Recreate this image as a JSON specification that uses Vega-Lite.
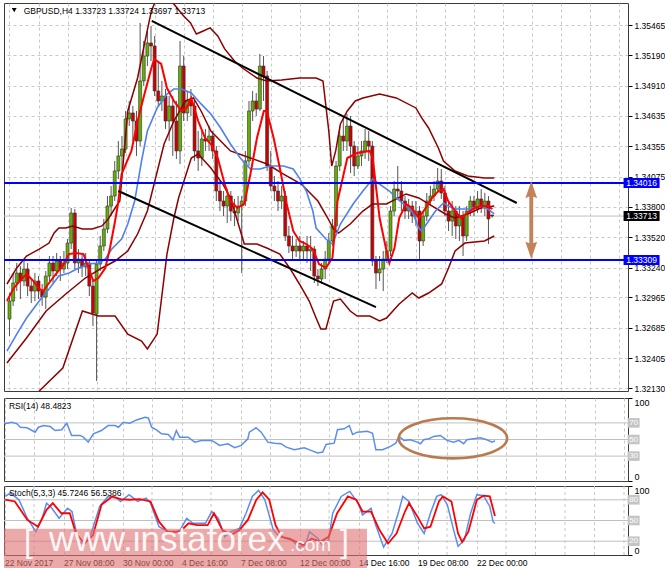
{
"$schema":"https://vega.github.io/schema/vega-lite/v6.json",
"padding":{"left":2,"top":2,"right":0,"bottom":0},
"background":"#ffffff",
"spacing":3,
"resolve":{"scale":{"x":"independent","y":"independent"}},
"config":{
 "view":{"stroke":"#3c3c3c","strokeWidth":1},
 "axis":{"labelFont":"Liberation Sans","labelFontSize":8.5,"labelColor":"#000000","gridColor":"#c8c8c8","gridDash":[3,3],"gridWidth":1,"domain":false,"tickColor":"#000000","tickSize":4,"labelPadding":2,"title":null,"labelOverlap":false},
 "text":{"font":"Liberation Sans"}
},
"datasets":{
"c":[
{"i":0,"o":1.32767,"h":1.33006,"l":1.32611,"c":1.32932},
{"i":1,"o":1.32932,"h":1.3319,"l":1.32887,"c":1.33098},
{"i":2,"o":1.33098,"h":1.33282,"l":1.33024,"c":1.3319},
{"i":3,"o":1.3319,"h":1.33254,"l":1.32951,"c":1.33116},
{"i":4,"o":1.33116,"h":1.33318,"l":1.3307,"c":1.33226},
{"i":5,"o":1.33226,"h":1.33282,"l":1.32978,"c":1.3307},
{"i":6,"o":1.3307,"h":1.33135,"l":1.32914,"c":1.33024},
{"i":7,"o":1.33024,"h":1.3319,"l":1.32932,"c":1.33116},
{"i":8,"o":1.33116,"h":1.33162,"l":1.32951,"c":1.33024},
{"i":9,"o":1.33024,"h":1.33089,"l":1.32887,"c":1.32969},
{"i":10,"o":1.32969,"h":1.33208,"l":1.32859,"c":1.33162},
{"i":11,"o":1.33162,"h":1.33346,"l":1.33116,"c":1.33282},
{"i":12,"o":1.33282,"h":1.33346,"l":1.33098,"c":1.33208},
{"i":13,"o":1.33208,"h":1.33373,"l":1.33162,"c":1.333},
{"i":14,"o":1.333,"h":1.33346,"l":1.33116,"c":1.33226},
{"i":15,"o":1.33226,"h":1.33392,"l":1.3319,"c":1.33282},
{"i":16,"o":1.33282,"h":1.33502,"l":1.33226,"c":1.33465},
{"i":17,"o":1.33465,"h":1.33787,"l":1.3341,"c":1.33741},
{"i":18,"o":1.33741,"h":1.33778,"l":1.33226,"c":1.33282},
{"i":19,"o":1.33282,"h":1.3341,"l":1.3319,"c":1.33318},
{"i":20,"o":1.33318,"h":1.33373,"l":1.33153,"c":1.33245},
{"i":21,"o":1.33245,"h":1.33373,"l":1.33162,"c":1.33282},
{"i":22,"o":1.33282,"h":1.33318,"l":1.32978,"c":1.3307},
{"i":23,"o":1.3307,"h":1.33116,"l":1.32703,"c":1.32822},
{"i":24,"o":1.32813,"h":1.33318,"l":1.32198,"c":1.33272},
{"i":25,"o":1.33272,"h":1.3353,"l":1.33208,"c":1.33438},
{"i":26,"o":1.33438,"h":1.33686,"l":1.33392,"c":1.33594},
{"i":27,"o":1.33594,"h":1.33897,"l":1.33557,"c":1.33805},
{"i":28,"o":1.33805,"h":1.33989,"l":1.33713,"c":1.33897},
{"i":29,"o":1.33897,"h":1.34219,"l":1.33851,"c":1.34127},
{"i":30,"o":1.34127,"h":1.34402,"l":1.34053,"c":1.34265},
{"i":31,"o":1.34265,"h":1.34448,"l":1.34127,"c":1.34329},
{"i":32,"o":1.34329,"h":1.34678,"l":1.34292,"c":1.34605},
{"i":33,"o":1.34605,"h":1.3477,"l":1.3454,"c":1.3466},
{"i":34,"o":1.3466,"h":1.34724,"l":1.34402,"c":1.34586},
{"i":35,"o":1.34586,"h":1.34678,"l":1.34265,"c":1.34402},
{"i":36,"o":1.34402,"h":1.35487,"l":1.34356,"c":1.34954},
{"i":37,"o":1.34954,"h":1.35321,"l":1.34908,"c":1.35183},
{"i":38,"o":1.35183,"h":1.35413,"l":1.35091,"c":1.35303},
{"i":39,"o":1.35303,"h":1.35459,"l":1.35137,"c":1.35275},
{"i":40,"o":1.35275,"h":1.35367,"l":1.34816,"c":1.34862},
{"i":41,"o":1.34862,"h":1.35137,"l":1.34724,"c":1.3477},
{"i":42,"o":1.3477,"h":1.34954,"l":1.34678,"c":1.34816},
{"i":43,"o":1.34816,"h":1.3488,"l":1.34513,"c":1.34586},
{"i":44,"o":1.34586,"h":1.34816,"l":1.34402,"c":1.34724},
{"i":45,"o":1.34724,"h":1.34816,"l":1.34265,"c":1.34586},
{"i":46,"o":1.34586,"h":1.3477,"l":1.34237,"c":1.34311},
{"i":47,"o":1.34311,"h":1.35321,"l":1.34191,"c":1.35091},
{"i":48,"o":1.35091,"h":1.35183,"l":1.34586,"c":1.3466},
{"i":49,"o":1.3466,"h":1.34862,"l":1.34586,"c":1.3477},
{"i":50,"o":1.3477,"h":1.3488,"l":1.34632,"c":1.34724},
{"i":51,"o":1.34724,"h":1.34788,"l":1.34219,"c":1.34311},
{"i":52,"o":1.34311,"h":1.34494,"l":1.34127,"c":1.34246},
{"i":53,"o":1.34246,"h":1.34494,"l":1.34173,"c":1.34421},
{"i":54,"o":1.34421,"h":1.34513,"l":1.34311,"c":1.34402},
{"i":55,"o":1.34402,"h":1.3454,"l":1.34311,"c":1.34448},
{"i":56,"o":1.34448,"h":1.34494,"l":1.34237,"c":1.34311},
{"i":57,"o":1.34311,"h":1.34356,"l":1.33851,"c":1.33943},
{"i":58,"o":1.33943,"h":1.34035,"l":1.33759,"c":1.33851},
{"i":59,"o":1.33851,"h":1.33943,"l":1.33713,"c":1.33805},
{"i":60,"o":1.33805,"h":1.33961,"l":1.33649,"c":1.33897},
{"i":61,"o":1.33897,"h":1.33943,"l":1.33667,"c":1.33759},
{"i":62,"o":1.33759,"h":1.3387,"l":1.33622,"c":1.33741},
{"i":63,"o":1.33741,"h":1.33897,"l":1.33667,"c":1.33805},
{"i":64,"o":1.33805,"h":1.33897,"l":1.3319,"c":1.33851},
{"i":65,"o":1.33851,"h":1.34311,"l":1.33805,"c":1.34219},
{"i":66,"o":1.34219,"h":1.3477,"l":1.34173,"c":1.34678},
{"i":67,"o":1.34678,"h":1.34862,"l":1.34586,"c":1.3477},
{"i":68,"o":1.3477,"h":1.34843,"l":1.34632,"c":1.34696},
{"i":69,"o":1.34696,"h":1.35202,"l":1.34678,"c":1.35091},
{"i":70,"o":1.35091,"h":1.35183,"l":1.3477,"c":1.35},
{"i":71,"o":1.35,"h":1.35045,"l":1.34127,"c":1.34173},
{"i":72,"o":1.34173,"h":1.34311,"l":1.33943,"c":1.33989},
{"i":73,"o":1.33989,"h":1.34081,"l":1.33851,"c":1.33943},
{"i":74,"o":1.33943,"h":1.34035,"l":1.33759,"c":1.33851},
{"i":75,"o":1.33851,"h":1.33989,"l":1.33778,"c":1.33897},
{"i":76,"o":1.33897,"h":1.33943,"l":1.33484,"c":1.3353},
{"i":77,"o":1.3353,"h":1.33622,"l":1.33373,"c":1.33438},
{"i":78,"o":1.33438,"h":1.3353,"l":1.33318,"c":1.33392},
{"i":79,"o":1.33392,"h":1.33502,"l":1.33337,"c":1.33438},
{"i":80,"o":1.33438,"h":1.3353,"l":1.33318,"c":1.33392},
{"i":81,"o":1.33392,"h":1.33484,"l":1.333,"c":1.33438},
{"i":82,"o":1.33438,"h":1.3353,"l":1.33282,"c":1.33392},
{"i":83,"o":1.33392,"h":1.3353,"l":1.33208,"c":1.3341},
{"i":84,"o":1.3341,"h":1.33438,"l":1.33098,"c":1.33162},
{"i":85,"o":1.33162,"h":1.33226,"l":1.3307,"c":1.33135},
{"i":86,"o":1.33135,"h":1.33282,"l":1.33089,"c":1.33226},
{"i":87,"o":1.33226,"h":1.33392,"l":1.33135,"c":1.33318},
{"i":88,"o":1.33318,"h":1.33557,"l":1.33282,"c":1.33484},
{"i":89,"o":1.33484,"h":1.33686,"l":1.33438,"c":1.33622},
{"i":90,"o":1.33622,"h":1.34219,"l":1.33557,"c":1.34173},
{"i":91,"o":1.34173,"h":1.3454,"l":1.34127,"c":1.34448},
{"i":92,"o":1.34448,"h":1.34632,"l":1.34311,"c":1.34402},
{"i":93,"o":1.34402,"h":1.3465,"l":1.34311,"c":1.3454},
{"i":94,"o":1.3454,"h":1.34632,"l":1.34108,"c":1.34356},
{"i":95,"o":1.34356,"h":1.34402,"l":1.34081,"c":1.34173},
{"i":96,"o":1.34173,"h":1.34356,"l":1.34145,"c":1.34265},
{"i":97,"o":1.34265,"h":1.34402,"l":1.34173,"c":1.34311},
{"i":98,"o":1.34311,"h":1.34513,"l":1.34237,"c":1.34402},
{"i":99,"o":1.34402,"h":1.34494,"l":1.34219,"c":1.34356},
{"i":100,"o":1.34356,"h":1.34402,"l":1.33254,"c":1.333},
{"i":101,"o":1.333,"h":1.33346,"l":1.33043,"c":1.3319},
{"i":102,"o":1.3319,"h":1.33346,"l":1.33116,"c":1.33226},
{"i":103,"o":1.33226,"h":1.33392,"l":1.33024,"c":1.33318},
{"i":104,"o":1.33318,"h":1.33484,"l":1.33282,"c":1.33392},
{"i":105,"o":1.33392,"h":1.33805,"l":1.33346,"c":1.33759},
{"i":106,"o":1.33759,"h":1.34035,"l":1.33713,"c":1.33961},
{"i":107,"o":1.33961,"h":1.34173,"l":1.3387,"c":1.33943},
{"i":108,"o":1.33943,"h":1.34035,"l":1.33759,"c":1.33851},
{"i":109,"o":1.33851,"h":1.33897,"l":1.33686,"c":1.33759},
{"i":110,"o":1.33759,"h":1.3387,"l":1.33686,"c":1.33805},
{"i":111,"o":1.33805,"h":1.33851,"l":1.33649,"c":1.33713},
{"i":112,"o":1.33713,"h":1.33851,"l":1.33622,"c":1.33759},
{"i":113,"o":1.33759,"h":1.33805,"l":1.33318,"c":1.33484},
{"i":114,"o":1.33484,"h":1.33759,"l":1.33438,"c":1.33713},
{"i":115,"o":1.33713,"h":1.33925,"l":1.33667,"c":1.33851},
{"i":116,"o":1.33851,"h":1.33989,"l":1.33805,"c":1.33897},
{"i":117,"o":1.33897,"h":1.34035,"l":1.33851,"c":1.33961},
{"i":118,"o":1.33961,"h":1.34154,"l":1.33925,"c":1.34035},
{"i":119,"o":1.34035,"h":1.34145,"l":1.3387,"c":1.33925},
{"i":120,"o":1.33925,"h":1.33989,"l":1.33713,"c":1.33759},
{"i":121,"o":1.33759,"h":1.33851,"l":1.33576,"c":1.33667},
{"i":122,"o":1.33667,"h":1.33851,"l":1.3353,"c":1.33759},
{"i":123,"o":1.33759,"h":1.33805,"l":1.33502,"c":1.33622},
{"i":124,"o":1.33622,"h":1.33805,"l":1.33484,"c":1.33713},
{"i":125,"o":1.33713,"h":1.33759,"l":1.33346,"c":1.3353},
{"i":126,"o":1.3353,"h":1.33805,"l":1.33484,"c":1.33759},
{"i":127,"o":1.33759,"h":1.33897,"l":1.33713,"c":1.33851},
{"i":128,"o":1.33851,"h":1.33897,"l":1.33713,"c":1.33778},
{"i":129,"o":1.33778,"h":1.33943,"l":1.33741,"c":1.3387},
{"i":130,"o":1.3387,"h":1.33961,"l":1.33741,"c":1.33805},
{"i":131,"o":1.33805,"h":1.33925,"l":1.33713,"c":1.33851},
{"i":132,"o":1.33851,"h":1.33897,"l":1.33456,"c":1.33686},
{"i":133,"o":1.33723,"h":1.33724,"l":1.33697,"c":1.33713}
],
"bb":[
{"s":"u","i":-0.7,"v":1.33089},{"s":"u","i":2.0,"v":1.33236},{"s":"u","i":4.7,"v":1.33346},{"s":"u","i":8.2,"v":1.3341},{"s":"u","i":10.9,"v":1.33465},{"s":"u","i":12.3,"v":1.33557},{"s":"u","i":13.6,"v":1.33603},{"s":"u","i":15.5,"v":1.33603},{"s":"u","i":17.4,"v":1.33622},{"s":"u","i":20.1,"v":1.33594},{"s":"u","i":22.8,"v":1.33594},{"s":"u","i":25.5,"v":1.33622},{"s":"u","i":27.2,"v":1.33686},{"s":"u","i":29.1,"v":1.33787},{"s":"u","i":30.4,"v":1.33851},{"s":"u","i":32.6,"v":1.34678},{"s":"u","i":35.3,"v":1.34981},{"s":"u","i":37.2,"v":1.35294},{"s":"u","i":39.1,"v":1.35597},{"s":"u","i":41.2,"v":1.35762},{"s":"u","i":43.1,"v":1.35781},{"s":"u","i":45.3,"v":1.35661},{"s":"u","i":48.0,"v":1.35551},{"s":"u","i":49.9,"v":1.35487},{"s":"u","i":51.5,"v":1.35385},{"s":"u","i":53.4,"v":1.35413},{"s":"u","i":55.3,"v":1.35441},{"s":"u","i":57.4,"v":1.35367},{"s":"u","i":59.3,"v":1.35248},{"s":"u","i":62.0,"v":1.35137},{"s":"u","i":64.2,"v":1.35073},{"s":"u","i":68.2,"v":1.34981},{"s":"u","i":70.9,"v":1.34954},{"s":"u","i":75.0,"v":1.34963},{"s":"u","i":79.9,"v":1.34981},{"s":"u","i":84.5,"v":1.34981},{"s":"u","i":86.4,"v":1.34954},{"s":"u","i":88.0,"v":1.34494},{"s":"u","i":88.8,"v":1.34173},{"s":"u","i":89.9,"v":1.34311},{"s":"u","i":91.2,"v":1.34559},{"s":"u","i":93.1,"v":1.34678},{"s":"u","i":95.3,"v":1.3477},{"s":"u","i":97.4,"v":1.34798},{"s":"u","i":102.0,"v":1.34834},{"s":"u","i":106.6,"v":1.34798},{"s":"u","i":112.0,"v":1.34706},{"s":"u","i":113.6,"v":1.34614},{"s":"u","i":115.5,"v":1.34522},{"s":"u","i":118.2,"v":1.34338},{"s":"u","i":119.6,"v":1.34219},{"s":"u","i":122.8,"v":1.34127},{"s":"u","i":126.3,"v":1.34081},{"s":"u","i":130.9,"v":1.34063},{"s":"u","i":133.6,"v":1.34063},
{"s":"m","i":-0.7,"v":1.32363},{"s":"m","i":4.7,"v":1.32593},{"s":"m","i":10.1,"v":1.32841},{"s":"m","i":15.5,"v":1.32997},{"s":"m","i":20.9,"v":1.33144},{"s":"m","i":25.5,"v":1.33236},{"s":"m","i":29.1,"v":1.333},{"s":"m","i":32.6,"v":1.33392},{"s":"m","i":35.3,"v":1.33548},{"s":"m","i":38.0,"v":1.33759},{"s":"m","i":42.6,"v":1.34375},{"s":"m","i":45.3,"v":1.34586},{"s":"m","i":48.5,"v":1.3477},{"s":"m","i":50.7,"v":1.34798},{"s":"m","i":52.8,"v":1.34678},{"s":"m","i":55.5,"v":1.34494},{"s":"m","i":60.9,"v":1.34311},{"s":"m","i":66.4,"v":1.34246},{"s":"m","i":71.0,"v":1.34191},{"s":"m","i":75.5,"v":1.34099},{"s":"m","i":80.4,"v":1.34007},{"s":"m","i":85.0,"v":1.33851},{"s":"m","i":87.7,"v":1.33695},{"s":"m","i":89.3,"v":1.33594},{"s":"m","i":90.7,"v":1.33557},{"s":"m","i":93.9,"v":1.3364},{"s":"m","i":97.4,"v":1.33759},{"s":"m","i":100.1,"v":1.33824},{"s":"m","i":103.9,"v":1.33824},{"s":"m","i":109.3,"v":1.33916},{"s":"m","i":112.8,"v":1.33879},{"s":"m","i":115.5,"v":1.33824},{"s":"m","i":120.1,"v":1.33732},{"s":"m","i":122.8,"v":1.33695},{"s":"m","i":126.3,"v":1.33732},{"s":"m","i":129.9,"v":1.33787},{"s":"m","i":133.6,"v":1.33805},
{"s":"l","i":2.0,"v":1.31922},{"s":"l","i":8.2,"v":1.32106},{"s":"l","i":14.7,"v":1.32317},{"s":"l","i":20.1,"v":1.32841},{"s":"l","i":24.5,"v":1.32795},{"s":"l","i":29.1,"v":1.32795},{"s":"l","i":32.6,"v":1.32629},{"s":"l","i":36.4,"v":1.32565},{"s":"l","i":38.0,"v":1.32492},{"s":"l","i":40.7,"v":1.32629},{"s":"l","i":43.4,"v":1.33364},{"s":"l","i":45.3,"v":1.33695},{"s":"l","i":46.6,"v":1.33879},{"s":"l","i":50.1,"v":1.34246},{"s":"l","i":52.0,"v":1.34283},{"s":"l","i":55.5,"v":1.34154},{"s":"l","i":58.8,"v":1.34007},{"s":"l","i":60.9,"v":1.33879},{"s":"l","i":62.0,"v":1.33759},{"s":"l","i":64.7,"v":1.33456},{"s":"l","i":68.2,"v":1.33456},{"s":"l","i":70.9,"v":1.33419},{"s":"l","i":74.5,"v":1.33364},{"s":"l","i":77.2,"v":1.33236},{"s":"l","i":79.9,"v":1.33089},{"s":"l","i":82.6,"v":1.32932},{"s":"l","i":84.5,"v":1.32776},{"s":"l","i":85.8,"v":1.32675},{"s":"l","i":87.2,"v":1.32675},{"s":"l","i":89.3,"v":1.32932},{"s":"l","i":91.2,"v":1.32951},{"s":"l","i":93.9,"v":1.32841},{"s":"l","i":95.8,"v":1.32795},{"s":"l","i":99.3,"v":1.32795},{"s":"l","i":102.0,"v":1.32749},{"s":"l","i":103.9,"v":1.32776},{"s":"l","i":107.4,"v":1.32905},{"s":"l","i":111.0,"v":1.33006},{"s":"l","i":112.8,"v":1.3296},{"s":"l","i":115.5,"v":1.33006},{"s":"l","i":119.1,"v":1.33089},{"s":"l","i":121.0,"v":1.33236},{"s":"l","i":122.8,"v":1.33392},{"s":"l","i":125.5,"v":1.33465},{"s":"l","i":130.9,"v":1.33484},{"s":"l","i":133.6,"v":1.3353}
],
"mr":[
{"i":-0.7,"v":1.32932},{"i":1.2,"v":1.33052},{"i":2.8,"v":1.33116},{"i":4.7,"v":1.33181},{"i":6.6,"v":1.33116},{"i":8.2,"v":1.33043},{"i":9.3,"v":1.33024},{"i":10.9,"v":1.33098},{"i":12.8,"v":1.33181},{"i":14.7,"v":1.33254},{"i":16.4,"v":1.33364},{"i":18.2,"v":1.33373},{"i":20.4,"v":1.33364},{"i":21.8,"v":1.33236},{"i":23.1,"v":1.33116},{"i":24.5,"v":1.33144},{"i":26.4,"v":1.33236},{"i":27.7,"v":1.33419},{"i":29.1,"v":1.33667},{"i":29.9,"v":1.33824},{"i":30.9,"v":1.34099},{"i":33.6,"v":1.34311},{"i":35.3,"v":1.34586},{"i":37.2,"v":1.34834},{"i":39.1,"v":1.35073},{"i":39.9,"v":1.35155},{"i":41.8,"v":1.3511},{"i":43.4,"v":1.34889},{"i":45.3,"v":1.3477},{"i":47.4,"v":1.34678},{"i":48.8,"v":1.34706},{"i":50.1,"v":1.34798},{"i":52.0,"v":1.34586},{"i":53.9,"v":1.3443},{"i":55.5,"v":1.34375},{"i":57.4,"v":1.34246},{"i":59.3,"v":1.34007},{"i":60.9,"v":1.33851},{"i":62.8,"v":1.33787},{"i":64.7,"v":1.33824},{"i":66.4,"v":1.34099},{"i":68.2,"v":1.3443},{"i":70.1,"v":1.34678},{"i":70.9,"v":1.34678},{"i":72.8,"v":1.3443},{"i":74.5,"v":1.34154},{"i":76.4,"v":1.33824},{"i":78.2,"v":1.33576},{"i":79.9,"v":1.33484},{"i":81.8,"v":1.33456},{"i":83.6,"v":1.3341},{"i":85.3,"v":1.33272},{"i":87.2,"v":1.33236},{"i":89.0,"v":1.33328},{"i":90.4,"v":1.33851},{"i":93.1,"v":1.34246},{"i":95.8,"v":1.34292},{"i":99.3,"v":1.34311},{"i":100.1,"v":1.34246},{"i":102.0,"v":1.33695},{"i":103.9,"v":1.33392},{"i":104.7,"v":1.33282},{"i":106.1,"v":1.33419},{"i":107.4,"v":1.33695},{"i":109.3,"v":1.33824},{"i":110.9,"v":1.33787},{"i":112.8,"v":1.33695},{"i":114.7,"v":1.33787},{"i":116.4,"v":1.33879},{"i":118.2,"v":1.33943},{"i":119.6,"v":1.33961},{"i":120.9,"v":1.33851},{"i":122.8,"v":1.33759},{"i":124.4,"v":1.33695},{"i":125.8,"v":1.33732},{"i":128.2,"v":1.33787},{"i":129.9,"v":1.33805},{"i":131.8,"v":1.33805},{"i":133.1,"v":1.33778}
],
"mb":[
{"i":-0.7,"v":1.32473},{"i":2.0,"v":1.32629},{"i":4.7,"v":1.32776},{"i":8.2,"v":1.32932},{"i":10.9,"v":1.33043},{"i":13.6,"v":1.33162},{"i":16.4,"v":1.3319},{"i":19.1,"v":1.33236},{"i":21.8,"v":1.33272},{"i":24.5,"v":1.33282},{"i":26.4,"v":1.33318},{"i":28.2,"v":1.3341},{"i":30.9,"v":1.33502},{"i":32.6,"v":1.3364},{"i":34.5,"v":1.33851},{"i":36.4,"v":1.34219},{"i":38.0,"v":1.34494},{"i":40.7,"v":1.34706},{"i":43.4,"v":1.34834},{"i":45.3,"v":1.3488},{"i":47.4,"v":1.3488},{"i":50.1,"v":1.34843},{"i":52.8,"v":1.34743},{"i":55.5,"v":1.3465},{"i":58.2,"v":1.34522},{"i":60.9,"v":1.34375},{"i":63.6,"v":1.34246},{"i":66.4,"v":1.34145},{"i":69.1,"v":1.34145},{"i":71.8,"v":1.34173},{"i":75.5,"v":1.34173},{"i":78.2,"v":1.34145},{"i":79.9,"v":1.34062},{"i":81.8,"v":1.33943},{"i":83.6,"v":1.33759},{"i":84.5,"v":1.33603},{"i":87.2,"v":1.33502},{"i":89.0,"v":1.33456},{"i":91.2,"v":1.3364},{"i":94.7,"v":1.33824},{"i":97.4,"v":1.33943},{"i":100.1,"v":1.34053},{"i":102.0,"v":1.34007},{"i":104.7,"v":1.33943},{"i":106.6,"v":1.33879},{"i":109.3,"v":1.33805},{"i":110.9,"v":1.33759},{"i":112.8,"v":1.33603},{"i":113.6,"v":1.33576},{"i":115.5,"v":1.33667},{"i":117.4,"v":1.33759},{"i":119.6,"v":1.33833},{"i":120.9,"v":1.33805},{"i":122.8,"v":1.33778},{"i":126.3,"v":1.33778},{"i":129.9,"v":1.33805},{"i":131.8,"v":1.33778},{"i":133.6,"v":1.33732}
],
"tr":[
{"s":"a","i":39.2,"v":1.35505},{"s":"a","i":139.8,"v":1.33833},
{"s":"b","i":30.0,"v":1.33943},{"s":"b","i":101.0,"v":1.32877}
],
"rsi":[
{"i":0,"v":68.9},{"i":2.0,"v":70.8},{"i":3.4,"v":68.9},{"i":4.3,"v":64.8},{"i":6.1,"v":64.1},{"i":8.3,"v":58.8},{"i":9.2,"v":64.8},{"i":10.6,"v":66.8},{"i":12.4,"v":65.6},{"i":13.7,"v":60.8},{"i":15.5,"v":61.7},{"i":16.9,"v":69.6},{"i":18.2,"v":54.9},{"i":20.5,"v":54.9},{"i":21.4,"v":52.8},{"i":22.7,"v":46.8},{"i":24.1,"v":56.9},{"i":26.3,"v":60.8},{"i":28.1,"v":66.8},{"i":30.0,"v":66.8},{"i":30.9,"v":64.8},{"i":32.2,"v":70.8},{"i":34.0,"v":69.6},{"i":35.8,"v":73.6},{"i":38.1,"v":76.8},{"i":39.0,"v":76.0},{"i":39.9,"v":64.8},{"i":41.2,"v":61.7},{"i":42.6,"v":56.9},{"i":44.4,"v":56.0},{"i":45.7,"v":49.7},{"i":46.6,"v":60.8},{"i":47.5,"v":52.8},{"i":49.8,"v":52.8},{"i":51.6,"v":46.8},{"i":53.4,"v":48.9},{"i":56.1,"v":48.9},{"i":57.0,"v":46.8},{"i":58.3,"v":42.9},{"i":60.6,"v":44.9},{"i":62.4,"v":40.1},{"i":64.2,"v":42.9},{"i":66.0,"v":50.9},{"i":66.4,"v":58.8},{"i":68.2,"v":64.1},{"i":69.6,"v":58.8},{"i":71.4,"v":46.8},{"i":73.2,"v":45.6},{"i":75.0,"v":44.9},{"i":76.4,"v":40.8},{"i":78.6,"v":37.7},{"i":81.3,"v":40.1},{"i":83.1,"v":36.9},{"i":84.9,"v":33.7},{"i":86.3,"v":34.9},{"i":87.2,"v":44.1},{"i":89.4,"v":45.6},{"i":90.3,"v":61.7},{"i":92.1,"v":62.9},{"i":93.5,"v":66.8},{"i":94.4,"v":56.0},{"i":95.7,"v":58.8},{"i":98.4,"v":60.0},{"i":99.8,"v":57.6},{"i":100.7,"v":37.7},{"i":102.5,"v":37.7},{"i":104.7,"v":41.7},{"i":106.1,"v":45.6},{"i":107.0,"v":53.7},{"i":108.3,"v":48.9},{"i":110.1,"v":49.7},{"i":111.9,"v":46.8},{"i":112.8,"v":44.9},{"i":113.7,"v":49.7},{"i":115.1,"v":50.9},{"i":116.4,"v":53.7},{"i":118.2,"v":54.9},{"i":120.0,"v":48.9},{"i":121.8,"v":46.8},{"i":123.2,"v":48.9},{"i":124.5,"v":44.9},{"i":125.4,"v":49.7},{"i":127.2,"v":50.9},{"i":129.0,"v":52.1},{"i":130.8,"v":49.7},{"i":132.2,"v":46.8},{"i":133.0,"v":48.48}
],
"sk":[
{"i":0.2,"v":84.9},{"i":1.6,"v":89.8},{"i":3.9,"v":80.1},{"i":6.2,"v":53.2},{"i":8.5,"v":33.7},{"i":10.2,"v":53.2},{"i":11.4,"v":75.1},{"i":12.5,"v":70.3},{"i":14.8,"v":53.2},{"i":17.1,"v":67.8},{"i":18.3,"v":63.0},{"i":20.0,"v":19.0},{"i":21.7,"v":16.6},{"i":23.5,"v":31.2},{"i":25.8,"v":70.3},{"i":28.1,"v":84.9},{"i":30.4,"v":82.4},{"i":31.5,"v":77.6},{"i":33.8,"v":87.4},{"i":36.1,"v":77.6},{"i":38.4,"v":82.4},{"i":39.6,"v":75.1},{"i":41.9,"v":41.0},{"i":43.6,"v":36.1},{"i":45.3,"v":31.2},{"i":47.6,"v":36.1},{"i":49.4,"v":53.2},{"i":51.1,"v":45.9},{"i":53.4,"v":45.9},{"i":54.5,"v":45.9},{"i":56.2,"v":63.0},{"i":58.0,"v":53.2},{"i":59.7,"v":26.4},{"i":61.4,"v":33.7},{"i":63.7,"v":38.6},{"i":65.5,"v":60.5},{"i":67.2,"v":84.9},{"i":68.9,"v":93.7},{"i":70.6,"v":80.1},{"i":72.9,"v":36.1},{"i":74.6,"v":26.4},{"i":77.5,"v":23.9},{"i":79.8,"v":11.7},{"i":81.6,"v":14.2},{"i":82.7,"v":33.7},{"i":85.0,"v":23.9},{"i":86.2,"v":14.2},{"i":87.9,"v":21.5},{"i":89.0,"v":60.5},{"i":91.3,"v":84.9},{"i":93.6,"v":92.2},{"i":95.9,"v":75.1},{"i":97.1,"v":58.1},{"i":99.4,"v":67.8},{"i":100.5,"v":45.9},{"i":102.8,"v":11.7},{"i":105.1,"v":31.2},{"i":106.9,"v":63.0},{"i":108.0,"v":84.9},{"i":109.7,"v":77.6},{"i":112.0,"v":45.9},{"i":113.8,"v":31.2},{"i":115.5,"v":60.5},{"i":117.2,"v":84.9},{"i":118.4,"v":87.4},{"i":120.1,"v":72.7},{"i":121.8,"v":36.1},{"i":123.0,"v":12.7},{"i":124.7,"v":21.5},{"i":126.4,"v":60.5},{"i":128.1,"v":87.4},{"i":129.9,"v":85.9},{"i":131.6,"v":70.3},{"i":132.5,"v":48.3},{"i":133.0,"v":45.72}
],
"sd":[
{"i":0.2,"v":80.1},{"i":2.8,"v":77.6},{"i":6.2,"v":50.8},{"i":9.1,"v":41.0},{"i":11.4,"v":65.4},{"i":13.1,"v":75.1},{"i":15.4,"v":60.5},{"i":17.7,"v":60.5},{"i":19.4,"v":31.2},{"i":21.7,"v":16.6},{"i":24.0,"v":28.8},{"i":26.3,"v":72.7},{"i":29.2,"v":84.9},{"i":31.5,"v":81.0},{"i":33.8,"v":80.1},{"i":36.7,"v":81.0},{"i":39.6,"v":77.6},{"i":41.9,"v":48.3},{"i":44.2,"v":33.7},{"i":47.6,"v":33.7},{"i":49.9,"v":45.9},{"i":52.2,"v":43.4},{"i":55.1,"v":43.4},{"i":56.8,"v":60.5},{"i":59.1,"v":36.1},{"i":61.4,"v":28.8},{"i":63.7,"v":36.1},{"i":66.0,"v":50.8},{"i":68.3,"v":80.1},{"i":70.0,"v":90.8},{"i":71.8,"v":80.1},{"i":73.5,"v":43.4},{"i":75.2,"v":26.4},{"i":78.1,"v":21.5},{"i":81.0,"v":14.2},{"i":83.3,"v":23.9},{"i":85.6,"v":19.0},{"i":87.9,"v":26.4},{"i":90.2,"v":60.5},{"i":93.1,"v":84.9},{"i":95.4,"v":80.1},{"i":97.1,"v":63.0},{"i":99.4,"v":63.0},{"i":101.7,"v":36.1},{"i":104.0,"v":16.6},{"i":106.3,"v":31.2},{"i":108.6,"v":63.0},{"i":109.7,"v":75.1},{"i":112.0,"v":55.6},{"i":113.8,"v":38.6},{"i":115.5,"v":41.0},{"i":117.8,"v":77.6},{"i":118.9,"v":84.9},{"i":121.2,"v":77.6},{"i":123.0,"v":31.2},{"i":124.1,"v":19.0},{"i":125.8,"v":33.7},{"i":128.1,"v":80.1},{"i":129.9,"v":85.9},{"i":131.6,"v":84.9},{"i":133.0,"v":56.54}
]
},
"vconcat":[
{
"width":624,"height":388,
"layer":[
{"data":{"values":[{"v":1.33713}]},"mark":{"type":"rule","color":"#c0c0c0","strokeWidth":1},
 "encoding":{"y":{"field":"v","type":"quantitative","scale":{"domain":[1.32106,1.3567],"nice":false,"zero":false},
  "axis":{"orient":"right","values":[1.3213,1.32405,1.32685,1.32965,1.3324,1.3352,1.338,1.34075,1.34355,1.34635,1.3491,1.3519,1.35465],"tickCount":30,"format":".5f","grid":true,"labelOverlap":false}}}},
{"data":{"name":"c"},"mark":{"type":"rule","color":"#555555","strokeWidth":1,"clip":true},
 "encoding":{"x":{"field":"i","type":"quantitative","scale":{"domain":[-0.136,169.08],"nice":false,"zero":false},
   "axis":{"values":[0,8,16,24,32,40,48,56,64,72,80,88,96,104,112,120,128,136,144,152,160,168],"tickCount":40,"labels":false,"ticks":false,"grid":true}},
  "y":{"field":"l","type":"quantitative"},"y2":{"field":"h"}}},
{"data":{"name":"c"},"mark":{"type":"bar","width":3,"stroke":"#303030","strokeWidth":0.6,"clip":true},
 "encoding":{"x":{"field":"i","type":"quantitative"},"y":{"field":"o","type":"quantitative"},"y2":{"field":"c"},
  "color":{"condition":{"test":"datum.c >= datum.o","value":"#62b000"},"value":"#cc0000"}}},
{"data":{"name":"bb"},"mark":{"type":"line","color":"#8b0000","strokeWidth":1.5,"clip":true},
 "encoding":{"x":{"field":"i","type":"quantitative"},"y":{"field":"v","type":"quantitative"},"detail":{"field":"s"}}},
{"data":{"name":"mb"},"mark":{"type":"line","color":"#4f80ee","strokeWidth":1.6,"clip":true},
 "encoding":{"x":{"field":"i","type":"quantitative"},"y":{"field":"v","type":"quantitative"}}},
{"data":{"name":"mr"},"mark":{"type":"line","color":"#ff0000","strokeWidth":2,"clip":true},
 "encoding":{"x":{"field":"i","type":"quantitative"},"y":{"field":"v","type":"quantitative"}}},
{"data":{"name":"tr"},"mark":{"type":"line","color":"#000000","strokeWidth":2,"clip":true},
 "encoding":{"x":{"field":"i","type":"quantitative"},"y":{"field":"v","type":"quantitative"},"detail":{"field":"s"}}},
{"data":{"values":[{"v":1.34016},{"v":1.33309}]},"mark":{"type":"rule","color":"#0000ff","strokeWidth":2},
 "encoding":{"y":{"field":"v","type":"quantitative"}}},
{"data":{"values":[{"i":143.8,"v":1.33677}]},"mark":{"type":"point","shape":"M 0 -1 L 0.15 -0.56 L 0.05 -0.6 L 0.05 0.6 L 0.15 0.56 L 0 1 L -0.15 0.56 L -0.05 0.6 L -0.05 -0.6 L -0.15 -0.56 Z","filled":true,"size":6084,"color":"#c0835a","opacity":1},
 "encoding":{"x":{"field":"i","type":"quantitative"},"y":{"field":"v","type":"quantitative"}}},
{"data":{"values":[{"v":1.34016},{"v":1.33309}]},"mark":{"type":"point","shape":"M -1 -0.28 L 1 -0.28 L 1 0.28 L -1 0.28 Z","filled":true,"size":1296,"color":"#0000ff","opacity":1},
 "encoding":{"x":{"datum":174.2},"y":{"field":"v","type":"quantitative"}}},
{"data":{"values":[{"v":1.33713}]},"mark":{"type":"point","shape":"M -1 -0.28 L 1 -0.28 L 1 0.28 L -1 0.28 Z","filled":true,"size":1296,"color":"#000000","opacity":1},
 "encoding":{"x":{"datum":174.2},"y":{"field":"v","type":"quantitative"}}},
{"data":{"values":[{"v":1.34016},{"v":1.33309},{"v":1.33713}]},"mark":{"type":"text","color":"#ffffff","fontSize":8.5,"align":"center","baseline":"middle"},
 "encoding":{"x":{"datum":174.2},"y":{"field":"v","type":"quantitative"},"text":{"field":"v","type":"quantitative","format":".5f"}}},
{"data":{"values":[{"t":"GBPUSD,H4  1.33723 1.33724 1.33697 1.33713"}]},"mark":{"type":"text","color":"#000000","fontSize":8.5,"align":"left","baseline":"middle"},
 "encoding":{"x":{"datum":3.9},"y":{"datum":1.35601},"text":{"field":"t"}}},
{"data":{"values":[{"t":"tri"}]},"mark":{"type":"point","shape":"triangle-down","filled":true,"size":24,"color":"#000000","opacity":1},
 "encoding":{"x":{"datum":1.3},"y":{"datum":1.35605}}}
]
},
{
"width":624,"height":83,
"layer":[
{"data":{"values":[{"v":70},{"v":50},{"v":30}]},"mark":{"type":"rule","color":"#c0c0c0","strokeWidth":1},
 "encoding":{"y":{"field":"v","type":"quantitative","scale":{"domain":[0,100],"nice":false},
  "axis":{"orient":"right","values":[0,100],"labelFlush":true,"grid":false,"labelFontSize":9}}}},
{"data":{"name":"rsi"},"mark":{"type":"line","color":"#5b8def","strokeWidth":1.5,"clip":true},
 "encoding":{"x":{"field":"i","type":"quantitative","scale":{"domain":[-0.136,169.08],"nice":false,"zero":false},
   "axis":{"values":[0,8,16,24,32,40,48,56,64,72,80,88,96,104,112,120,128,136,144,152,160,168],"tickCount":40,"labels":false,"ticks":false,"grid":true}},
  "y":{"field":"v","type":"quantitative"}}},
{"data":{"values":[{"v":51.4}]},"mark":{"type":"point","shape":"M -1 0 C -1 -0.204 -0.552 -0.37 0 -0.37 C 0.552 -0.37 1 -0.204 1 0 C 1 0.204 0.552 0.37 0 0.37 C -0.552 0.37 -1 0.204 -1 0 Z","filled":false,"size":11750,"color":"#b97a4e","strokeWidth":2.6,"opacity":1},
 "encoding":{"x":{"datum":121.6},"y":{"field":"v","type":"quantitative"}}},
{"data":{"values":[{"v":70},{"v":50},{"v":30}]},"mark":{"type":"point","shape":"M -1 -0.8 L 1 -0.8 L 1 0.8 L -1 0.8 Z","filled":true,"size":144,"color":"#c4c4c4","opacity":1},
 "encoding":{"x":{"datum":170.6},"y":{"field":"v","type":"quantitative"}}},
{"data":{"values":[{"v":70},{"v":50},{"v":30}]},"mark":{"type":"text","color":"#ffffff","fontSize":8,"align":"center","baseline":"middle"},
 "encoding":{"x":{"datum":170.6},"y":{"field":"v","type":"quantitative"},"text":{"field":"v","type":"quantitative"}}},
{"data":{"values":[{"t":"RSI(14) 48.4823"}]},"mark":{"type":"text","color":"#000000","fontSize":8.5,"align":"left","baseline":"middle"},
 "encoding":{"x":{"datum":1.2},"y":{"datum":90.4},"text":{"field":"t"}}}
]
},
{
"width":624,"height":69,
"layer":[
{"data":{"values":[{"v":80},{"v":50},{"v":20}]},"mark":{"type":"rule","color":"#c0c0c0","strokeWidth":1},
 "encoding":{"y":{"field":"v","type":"quantitative","scale":{"domain":[0,100],"nice":false},
  "axis":{"orient":"right","values":[0,100],"labelFlush":true,"grid":false,"labelFontSize":9}}}},
{"data":{"values":[{"g":8},{"g":24},{"g":40},{"g":56},{"g":72},{"g":88},{"g":104},{"g":120},{"g":136},{"g":144},{"g":152},{"g":160},{"g":168}]},"mark":{"type":"rule","color":"#c8c8c8","strokeWidth":1,"strokeDash":[3,3]},
 "encoding":{"x":{"field":"g","type":"quantitative"}}},
{"data":{"name":"sk"},"mark":{"type":"line","color":"#5b8def","strokeWidth":1.5,"clip":true},
 "encoding":{"x":{"field":"i","type":"quantitative","scale":{"domain":[-0.136,169.08],"nice":false,"zero":false},
   "axis":{"values":[0,16,32,48,64,80,96,112,128],"tickCount":40,"ticks":false,"grid":true,"labelAlign":"left","labelOverlap":false,"labelFlush":false,"labelPadding":3,
   "labelExpr":"datum.value==0?'22 Nov 2017':datum.value==16?'27 Nov 08:00':datum.value==32?'30 Nov 00:00':datum.value==48?'4 Dec 16:00':datum.value==64?'7 Dec 08:00':datum.value==80?'12 Dec 00:00':datum.value==96?'14 Dec 16:00':datum.value==112?'19 Dec 08:00':'22 Dec 00:00'"}},
  "y":{"field":"v","type":"quantitative"}}},
{"data":{"name":"sd"},"mark":{"type":"line","color":"#ff0000","strokeWidth":1.8,"clip":true},
 "encoding":{"x":{"field":"i","type":"quantitative"},"y":{"field":"v","type":"quantitative"}}},
{"data":{"values":[{"v":80},{"v":50},{"v":20}]},"mark":{"type":"point","shape":"M -1 -0.8 L 1 -0.8 L 1 0.8 L -1 0.8 Z","filled":true,"size":144,"color":"#c4c4c4","opacity":1},
 "encoding":{"x":{"datum":170.6},"y":{"field":"v","type":"quantitative"}}},
{"data":{"values":[{"v":80},{"v":50},{"v":20}]},"mark":{"type":"text","color":"#ffffff","fontSize":8,"align":"center","baseline":"middle"},
 "encoding":{"x":{"datum":170.6},"y":{"field":"v","type":"quantitative"},"text":{"field":"v","type":"quantitative"}}},
{"data":{"values":[{"t":"Stoch(5,3,3) 45.7246 56.5386"}]},"mark":{"type":"text","color":"#000000","fontSize":8.5,"align":"left","baseline":"middle"},
 "encoding":{"x":{"datum":1.2},"y":{"datum":90.3},"text":{"field":"t"}}},
{"data":{"values":[{"t":"wm"}]},"mark":{"type":"rect","color":"#e07070","opacity":0.6},
 "encoding":{"x":{"datum":-0.136},"x2":{"datum":98.3},"y":{"datum":38},"y2":{"datum":-29}}},
{"data":{"values":[{"t":"www.instaforex"}]},"mark":{"type":"text","color":"#ffffff","fontSize":35,"align":"left","baseline":"alphabetic","opacity":0.9},
 "encoding":{"x":{"datum":12.1},"y":{"datum":5.5},"text":{"field":"t"}}},
{"data":{"values":[{"t":".com"}]},"mark":{"type":"text","color":"#ffffff","fontSize":19,"align":"left","baseline":"alphabetic","opacity":0.9},
 "encoding":{"x":{"datum":77.4},"y":{"datum":5.5},"text":{"field":"t"}}},
{"data":{"values":[{"t":"["}]},"mark":{"type":"text","color":"#ffffff","fontSize":32,"fontWeight":"lighter","align":"left","baseline":"alphabetic","opacity":0.9},
 "encoding":{"x":{"datum":5.3},"y":{"datum":4},"text":{"field":"t"}}},
{"data":{"values":[{"t":"]"}]},"mark":{"type":"text","color":"#ffffff","fontSize":32,"fontWeight":"lighter","align":"left","baseline":"alphabetic","opacity":0.9},
 "encoding":{"x":{"datum":91.0},"y":{"datum":4},"text":{"field":"t"}}}
]
}
]
}
